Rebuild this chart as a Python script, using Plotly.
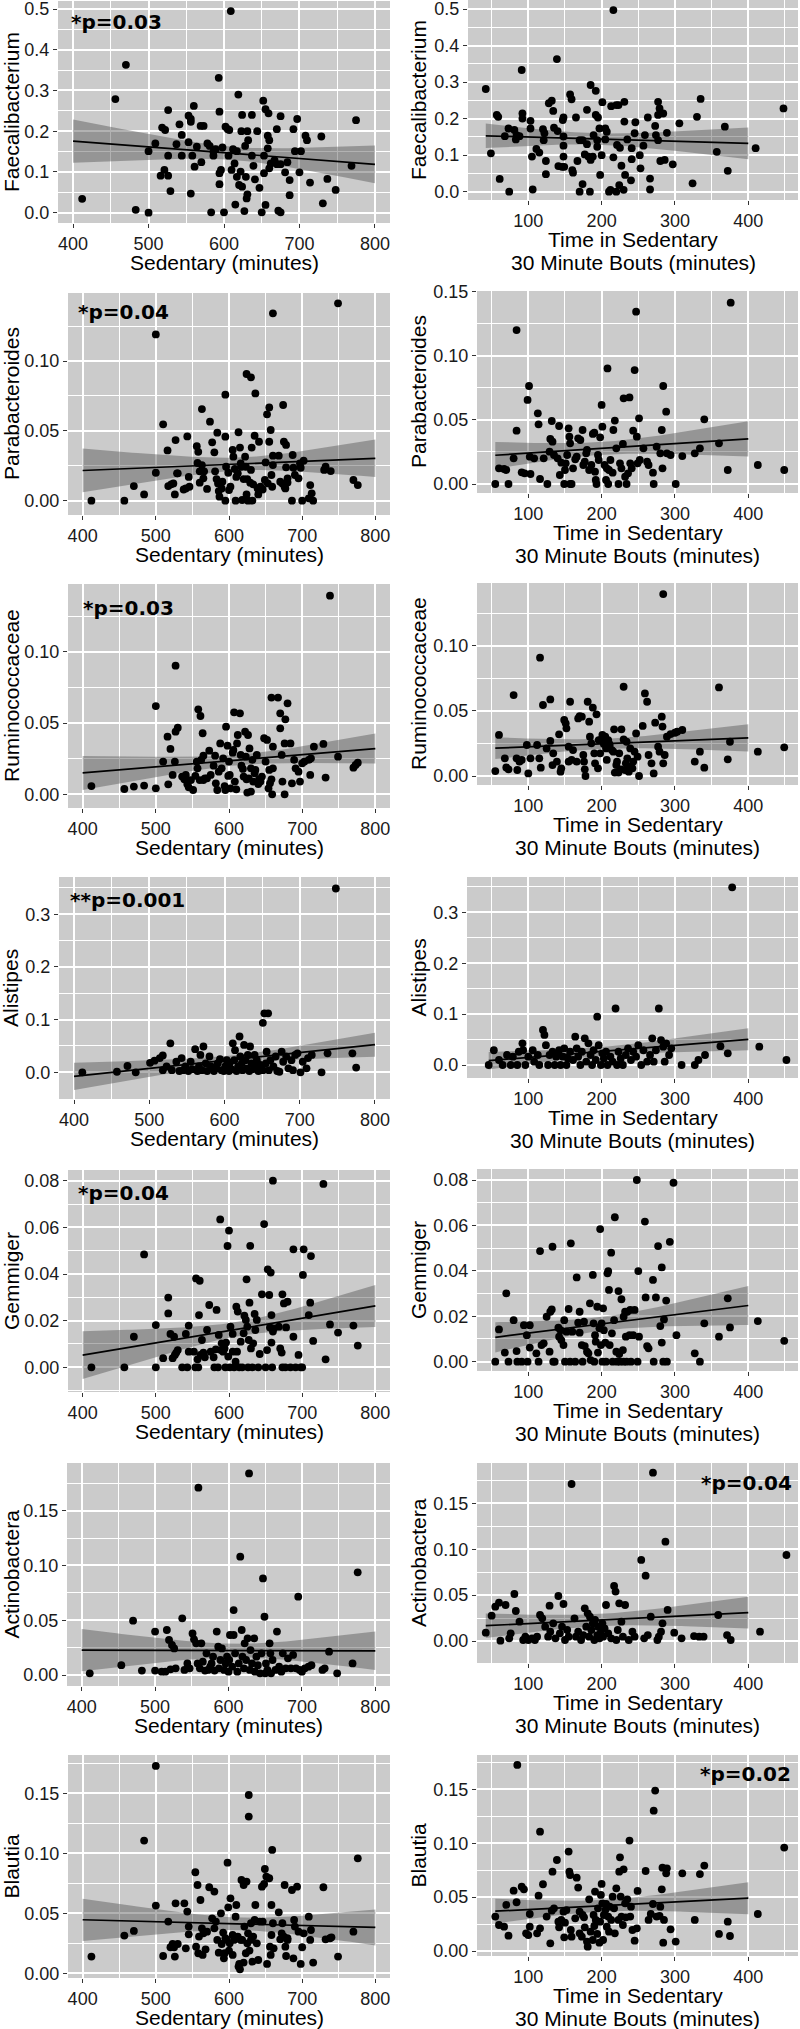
import numpy as np
import plotly.graph_objects as go

W, H = 800, 2029

# ---------------- DATA ----------------
TAXA = ["Faecalibacterium", "Parabacteroides", "Ruminococcaceae", "Alistipes",
        "Gemmiger", "Actinobactera", "Blautia"]
X_TITLE_SED = "Sedentary (minutes)"
X_TITLE_BOUT = ["Time in Sedentary", "30 Minute Bouts (minutes)"]
P_TEXT = ["*p=0.03", "*p=0.04", "*p=0.03", "**p=0.001", "*p=0.04", "*p=0.04", "*p=0.02"]
P_COL = [0, 0, 0, 0, 0, 1, 1]

FAECALI_SED = [(412,.034),(456,.279),(470,.363),(483,.007),(500,0),(500,.151),(509,.170),(518,.209),(522,.203),(516,.091),(521,.105),(526,.091),(526,.140),(526,.252),(529,.053),(537,.168),(541,.217),(544,.191),(544,.140),(553,.238),(556,.230),(556,.223),(553,.173),(556,.047),(560,.262),(558,.140),(561,.113),(564,.162),(570,.124),(569,.213),(573,.213),(578,.170),(581,.164),(583,.001),(586,.150),(586,.140),(589,.156),(593,.331),(594,.248),(594,.097),(594,.070),(596,.105),(598,.160),(600,.001),(602,.211),(605,.205),(606,.140),(607,.203),(609,.495),(610,.105),(612,.156),(614,.121),(615,.020),(617,.151),(617,.088),(619,.290),(620,.068),(622,.101),(623,.200),(624,.240),(624,.064),(627,.004),(628,.164),(629,.088),(630,.035),(631,.200),(631,.045),(632,.178),(637,.240),(637,.140),(639,.115),(641,.082),(644,.200),(647,.061),(650,.001),(652,.275),(653,.140),(653,.097),(655,.254),(655,.019),(658,.189),(658,.158),(659,.244),(660,.178),(660,.109),(662,.121),(667,.129),(670,.205),(670,.119),(672,.005),(675,.237),(675,.001),(675,.119),(681,.099),(684,.124),(687,.080),(687,.043),(692,.205),(694,.151),(697,.230),(700,.099),(702,.151),(708,.189),(710,.178),(714,.074),(729,.187),(731,.023),(737,.083),(748,.056),(769,.115),(775,.227)]

FAECALI_BOUT = [(42,.281),(49,.105),(57,.210),(59,.205),(61,.035),(68,.152),(73,.173),(74,0),(81,.169),(83,.143),(84,.155),(88,.152),(91,.333),(92,.200),(92,.214),(103,.194),(103,.173),(106,.006),(105,.096),(111,.117),(115,.107),(120,.171),(121,.141),(122,.160),(124,.084),(124,.048),(128,.242),(132,.249),(134,.221),(135,.175),(139,.363),(140,.166),(141,.070),(146,.068),(147,.196),(148,.203),(148,.151),(148,.126),(148,.096),(149,.068),(157,.266),(159,.253),(160,.059),(161,.052),(165,.203),(167,.084),(170,.141),(170,0),(174,.021),(174,.141),(177,.102),(180,.224),(180,.130),(182,.096),(184,0),(185,.292),(185,.087),(188,.096),(189,.155),(192,.276),(192,.210),(194,.141),(194,.123),(195,.203),(197,.173),(198,.046),(200,.100),(201,.245),(205,.173),(205,.143),(207,.164),(210,0),(212,.005),(213,.234),(216,.094),(216,.497),(220,0),(220,.237),(221,.128),(223,.237),(224,.018),(225,.120),(227,.071),(230,.005),(231,.192),(231,.246),(232,.046),(235,.143),(240,.031),(241,.089),(241,.119),(245,.160),(246,.190),(252,.100),(253,.064),(257,.126),(259,.155),(263,.203),(266,.036),(266,.006),(273,.180),(274,.155),(277,.246),(277,.210),(277,.141),(279,.228),(280,.084),(284,.214),(286,.087),(289,.161),(297,.075),(306,.187),(324,.023),(330,.205),(335,.254),(357,.109),(368,.178),(372,.057),(410,.119),(448,.228)]

PARA_SED = [(412,0),(457,0),(470,.0105),(484,.0045),(500,.020),(500,.119),(510,.0547),(516,.036),(517,.0105),(521,.0117),(524,.0124),(526,.0045),(527,.0434),(529,.0196),(530,.0196),(538,.008),(541,.0088),(543,.046),(545,.017),(546,.010),(556,.039),(557,.027),(558,.035),(560,.021),(560,.0129),(563,.0656),(563,.0255),(565,.016),(566,.021),(570,.0084),(574,.0566),(577,.0418),(580,.0346),(581,.021),(583,.0155),(584,.0487),(585,.0124),(586,.0069),(587,.0029),(590,.0088),(591,.0136),(595,.0759),(595,0),(595,.0458),(596,.0243),(599,.020),(600,.0076),(602,.010),(605,.0363),(606,.0315),(608,.0227),(609,0),(610,.017),(612,.0196),(613,.049),(615,.038),(616,.0267),(617,.0243),(618,.0005),(620,.0155),(622,.0315),(623,.0243),(624,.0907),(624,.0045),(625,.0155),(626,0),(629,.0129),(630,.022),(630,.0883),(631,.038),(632,0),(633,.0117),(635,.0465),(636,.0768),(639,.0088),(640,.0045),(641,.0422),(643,.010),(646,.008),(649,.0148),(650,.0274),(652,.0618),(653,.0124),(655,.0668),(655,.0422),(657,.0506),(658,.0184),(659,.010),(660,.1341),(660,.0255),(660,.0322),(668,.0322),(670,.0136),(673,.0124),(674,.0685),(675,.0422),(676,.010),(677,.0088),(678,.0399),(678,.0239),(680,.016),(680,.0131),(686,0),(687,.0327),(688,.0236),(690,.0184),(695,.016),(697,.0267),(698,.0236),(700,0),(702,.0286),(709,.0017),(711,.0112),(713,.0053),(715,0),(730,.022),(732,.0243),(739,.0212),(749,.1413),(770,.0148),(776,.0112)]

PARA_BOUT = [(55,0),(60,.0122),(67,.0117),(70,.0109),(73,0),(80,.020),(84,.120),(84,.0416),(91,.0091),(95,.0083),(99,.0655),(101,.0764),(102,.0213),(103,.0078),(108,.020),(113,.0551),(114,.0465),(116,.0039),(121,.020),(126,0),(129,.0252),(130,.0351),(132,.0491),(133,.033),(135,.0226),(140,.020),(142,.0452),(143,.007),(145,.0166),(149,0),(150,.0109),(151,.0161),(153,.0226),(155,.0434),(156,.0369),(157,.0317),(157,0),(159,0),(161,.0122),(164,.0192),(166,.0213),(168,.0356),(171,.0343),(174,.0421),(175,.0148),(177,.0174),(179,.0239),(180,.0265),(183,.0109),(186,.0148),(188,.039),(190,.040),(191,.0096),(192,.0031),(193,0),(195,.0226),(196,.0187),(198,.0364),(200,.0616),(201,.0447),(204,.0148),(206,.0031),(207,.0122),(208,.0901),(209,0),(210,.0109),(212,.0187),(215,.0088),(216,.0421),(218,.0494),(220,.0278),(223,0),(225,.0161),(227,.0122),(229,.0312),(230,.0668),(232,.0057),(234,0),(236,.0083),(238,.0675),(239,.0161),(241,.0122),(243,.0416),(245,.0888),(247,.1343),(248,.0369),(249,.0161),(251,.0512),(252,.0187),(257,.0278),(262,.0174),(264,.0148),(270,.0088),(271,0),(275,.0291),(280,.0239),(282,.0421),(283,.0122),(284,.0764),(288,.0564),(289,.0239),(294,.0226),(301,0),(310,.0218),(327,.0239),(334,.0278),(340,.0504),(360,.0317),(372,.0109),(376,.1413),(413,.0148),(449,.0109)]

RUMINO_SED = [(412,.0058),(457,.0037),(470,.0054),(484,.0061),(500,.0042),(500,.0619),(510,.0229),(516,.0404),(517,.007),(520,.0318),(523,.0136),(526,.0229),(527,.0902),(527,.0439),(530,.0467),(536,.0124),(539,.0105),(541,.0136),(543,.0072),(545,.0049),(548,.010),(551,.003),(554,.0129),(556,.0229),(557,.0182),(558,.0596),(560,.010),(561,.0549),(562,.0241),(564,.0428),(565,.0271),(565,.010),(567,.0112),(570,.0112),(573,.0306),(575,.0136),(579,.0201),(581,.0271),(582,.0077),(584,.003),(586,.0159),(588,.0357),(590,.0182),(592,.0252),(594,.0058),(595,.003),(596,.0474),(598,.0341),(599,.0129),(600,.0229),(601,.0136),(602,.0042),(605,.0292),(606,.0311),(607,.0575),(608,.0089),(610,.0035),(611,.0357),(612,.0416),(615,.0568),(616,.0276),(617,.0201),(619,.0178),(620,.0124),(622,.0439),(623,.0264),(624,.0105),(625,.0012),(626,.0416),(627,.0112),(628,.0322),(630,.0182),(630,.0019),(632,.0241),(633,.0089),(635,.0147),(636,.0171),(638,.0276),(640,.0072),(641,.0105),(643,.0089),(645,.0124),(648,.0393),(650,.0229),(652,.0381),(654,.0042),(655,.0171),(656,.0077),(658,.0105),(658,.0678),(659,0),(660,.0334),(660,.0182),(667,.0678),(670,.0568),(670,.0463),(672,.0276),(673,.0089),(677,.0526),(676,.0357),(676,0),(680,.0638),(684,.0357),(686,.0077),(689,.0241),(691,.0182),(695,.0159),(697,.0089),(700,.0217),(703,.0229),(709,.0241),(711,.0136),(712,.0252),(716,.0334),(729,.0353),(732,.0117),(738,.1393),(749,.0264),(770,.0187),(773,.0206),(776,.0222)]

RUMINO_BOUT = [(55,.0038),(60,.0315),(68,.0136),(70,.0066),(73,.0051),(80,.0621),(84,.0136),(85,.0046),(88,.011),(91,.0123),(98,.0238),(100,.002),(103,.0136),(112,.0238),(115,.0136),(116,.0908),(117,.0064),(120,.0545),(125,.0212),(130,.0588),(130,.0269),(133,.0084),(134,.0174),(139,.011),(142,.032),(144,.0033),(145,.0059),(149,.043),(151,.0404),(152,.0366),(155,.0225),(155,.011),(157,.057),(159,.0123),(161,.0199),(166,.011),(168,.0442),(170,.046),(173,.0455),(175,.0161),(176,.011),(177,.0051),(178,0),(181,.057),(183,.0417),(184,.0302),(186,.0251),(188,.0524),(190,.0174),(191,.0097),(193,.0473),(195,.0059),(196,.0276),(198,.0174),(200,.0281),(201,.0315),(203,.0246),(205,.0302),(206,.0212),(207,.0123),(209,.0276),(210,.0251),(211,.0238),(214,.0199),(216,.0187),(217,.0358),(218,.0026),(220,.0084),(221,.011),(223,.0026),(224,.0174),(226,.0051),(227,.0358),(230,.0685),(230,.0281),(232,.0046),(233,.0097),(234,.0263),(235,.0136),(237,.0033),(239,.0212),(240,.0072),(242,.0059),(243,.011),(245,.0187),(247,.0327),(249,.0148),(251,0),(256,.0384),(259,.0634),(262,.057),(264,.0161),(268,.0097),(271,.002),(273,.0409),(277,.0225),(279,.0187),(282,.0455),(283,.0379),(284,.1396),(284,.0097),(286,.0161),(289,.0302),(294,.0322),(300,.0332),(303,.034),(310,.0353),(327,.011),(334,.0187),(340,.0064),(360,.068),(372,.0128),(375,.0263),(413,.0187),(449,.022)]

ALIST_SED = [(411,0),(457,.001),(471,.012),(482,0),(501,.018),(507,.022),(514,.027),(518,.032),(518,.004),(523,.011),(528,.055),(530,.004),(536,.020),(540,.0025),(543,.027),(545,.004),(548,.011),(552,.0025),(555,.020),(557,.006),(561,.044),(564,.0025),(566,.011),(568,.033),(570,.004),(572,.049),(575,.017),(577,.0025),(580,.030),(582,.011),(586,.0025),(589,.0076),(591,.017),(594,.025),(596,.004),(599,.0025),(601,.011),(603,.023),(606,.0025),(607,.017),(609,.006),(611,.055),(613,.023),(614,.042),(616,.0025),(618,.011),(620,.068),(621,.030),(623,.017),(624,.004),(626,.052),(628,.023),(630,.0076),(631,.033),(633,.0025),(634,.049),(636,.017),(639,.006),(640,.033),(641,.011),(643,.023),(645,.0025),(648,.0139),(651,.094),(651,.004),(653,.112),(655,.017),(656,.039),(658,.112),(659,.004),(661,.023),(665,.011),(668,.030),(670,.0025),(673,.001),(676,.039),(678,.020),(682,.030),(685,.0076),(689,.023),(691,.004),(694,.033),(697,.036),(701,0),(704,.020),(709,.0076),(711,.027),(716,.033),(729,0),(737,.036),(748,.349),(770,.036),(775,.009)]

ALIST_BOUT = [(46,0),(53,.029),(60,.0098),(65,0),(71,.0196),(76,0),(79,.0164),(85,0),(87,.026),(92,.0426),(93,.029),(96,0),(100,.0164),(106,.029),(108,.0065),(113,.0196),(115,0),(120,.0688),(122,.059),(124,.039),(127,0),(129,.0196),(133,.026),(136,0),(138,.0164),(142,.029),(144,0),(147,.0164),(149,.0327),(152,0),(154,.013),(157,.026),(161,.0098),(164,.0557),(166,.0327),(168,.0164),(171,0),(173,.026),(177,.0524),(179,.0065),(182,.0426),(185,.0196),(187,0),(189,.029),(192,.0098),(194,.095),(196,.039),(199,0),(201,.023),(203,.013),(206,.026),(208,0),(212,.0164),(215,.0065),(219,.111),(221,0),(223,.026),(226,.013),(229,0),(233,.0196),(236,.0327),(240,.0098),(243,.026),(247,.0164),(250,.039),(254,0),(257,.029),(262,.0065),(266,.0196),(269,.0524),(271,.0065),(274,.029),(278,.111),(281,.049),(284,.036),(286,.0065),(288,.0426),(292,.0196),(295,.0327),(309,0),(327,0),(332,.0098),(341,.0196),(362,.037),(372,.023),(378,.349),(415,.036),(452,.0098)]

GEMM_SED = [(412,0),(457,0),(470,.0131),(484,.0484),(500,.0181),(500,0),(510,.0039),(517,.0299),(517,.0231),(520,.0143),(523,.0039),(525,.0131),(526,.0053),(528,.0063),(530,.0074),(536,0),(541,.0143),(543,0),(545,.0067),(545,.0179),(552,.0067),(554,0),(555,.0381),(557,.0034),(558,0),(559,.0224),(560,.0371),(561,.0053),(563,.0117),(565,.0063),(567,.0043),(570,.016),(573,.0267),(575,.0067),(579,.0043),(580,0),(582,.0077),(583,.0246),(585,0),(586,.0139),(588,.0634),(589,.0074),(590,.0103),(592,.0067),(594,.0081),(595,0),(596,.0106),(598,.052),(599,.0046),(600,.0586),(601,0),(602,.0174),(605,.0067),(605,.0143),(607,0),(609,.0024),(610,.026),(611,.0067),(612,.0239),(614,0),(616,.011),(618,0),(620,.0146),(621,.0221),(623,.0203),(624,.0377),(625,.0174),(626,0),(627,.0117),(628,.0277),(629,.0521),(630,.0081),(632,0),(633,.0103),(635,.0229),(636,.016),(638,.0203),(640,0),(642,.0057),(645,.0313),(648,.0614),(650,0),(652,.0074),(653,.042),(655,.031),(656,.0171),(657,.0406),(658,.0224),(658,.0106),(659,0),(660,.080),(660,.0153),(661,.0167),(668,.0174),(670,.0081),(672,.0063),(673,0),(673,.0313),(675,.0274),(677,0),(678,.0171),(680,.0281),(684,0),(688,.0506),(688,.0131),(691,0),(695,.0053),(698,0),(700,0),(701,.0396),(702,.0506),(709,.0224),(711,.0277),(712,.0477),(715,.0113),(729,.0786),(732,.0034),(738,.0184),(749,.0149),(770,.0179),(776,.0093)]

GEMM_BOUT = [(55,0),(60,.0142),(68,.004),(70,.0301),(73,0),(80,.0183),(84,.0047),(85,0),(91,0),(94,.0161),(98,.0117),(99,0),(102,.0161),(102,.0062),(111,.0037),(114,0),(116,.0487),(118,.0073),(121,.0081),(125,.0198),(129,.0044),(130,.022),(132,.023),(133,.0506),(134,0),(136,0),(141,.015),(142,.011),(144,.0139),(145,.0095),(148,.0073),(149,.0183),(150,0),(152,.0132),(155,.0232),(157,0),(158,.0521),(160,.0132),(164,0),(166,.0371),(168,.0172),(170,.0128),(170,.022),(173,.0073),(174,0),(176,.0176),(177,.0069),(180,.0044),(182,.0037),(184,.0257),(185,.0007),(188,.0382),(189,.0169),(190,0),(191,.0117),(192,.0088),(194,.0242),(195,.004),(197,.0147),(198,.0584),(199,.0073),(200,.0169),(201,0),(202,.0235),(203,.0139),(205,.0084),(206,0),(208,.0389),(209,.0399),(210,.0316),(211,.0073),(213,.048),(214,.0125),(215,0),(217,.0183),(218,.0636),(220,.0044),(221,0),(223,.0311),(224,.0034),(225,0),(227,.0275),(229,.0051),(230,0),(230,.0198),(232,.022),(233,.011),(234,0),(235,.022),(238,.0117),(239,.0228),(240,0),(243,.0117),(245,.0228),(248,.080),(249,0),(250,.0399),(251,.011),(259,.0617),(260,.0283),(262,.0069),(264,.0059),(270,.036),(271,0),(274,.0283),(277,.0509),(280,.0157),(282,.0084),(282,.0415),(284,0),(285,.0186),(288,.0269),(289,0),(293,.0528),(298,.0788),(302,.0117),(327,.0037),(334,0),(340,.0169),(360,.011),(372,.0279),(375,.0151),(413,.0179),(449,.0092)]

ACTINO_SED = [(411,.0015),(454,.009),(470,.0496),(482,.004),(500,.0396),(500,.004),(509,.003),(514,.003),(516,.0411),(519,.032),(521,.0052),(523,.0274),(526,.0243),(528,.0061),(537,.0517),(540,.0046),(544,.0106),(547,.0061),(551,.038),(553,.0326),(556,.0289),(558,.0106),(559,.171),(561,.0061),(563,.0289),(565,.0122),(568,.004),(570,.0198),(572,.0046),(575,.0076),(577,.0106),(579,.0167),(581,.004),(584,.0396),(586,.0259),(587,.0061),(589,.0137),(591,.0243),(594,.0046),(596,.0106),(598,.0167),(600,.003),(601,.0137),(602,.0365),(605,.0076),(607,.0593),(607,.0365),(609,.0198),(612,.003),(614,.0106),(616,.108),(618,.0411),(619,.0167),(621,.0061),(622,.0289),(624,.0137),(626,.0335),(628,.184),(629,.0046),(630,.0228),(632,.0106),(635,.0335),(636,.003),(638,.0167),(640,.009),(643,.0015),(645,.0198),(647,.0882),(649,.0532),(650,.0015),(651,.0106),(653,.0046),(656,.0289),(657,.0198),(658,.0015),(660,.0137),(664,.0046),(666,.0396),(669,.0076),(672,.003),(674,.0198),(678,.0061),(681,.0152),(685,.0061),(688,.0183),(692,.0061),(695,.0715),(697,.0046),(700,.003),(704,.0061),(709,.0076),(713,.009),(728,.0046),(731,.0061),(737,.0213),(748,.0015),(769,.0106),(776,.0937)]

ACTINO_BOUT = [(42,.0091),(50,.0276),(55,.0374),(60,.0418),(62,.0004),(69,.0392),(74,.0029),(76,.0084),(81,.0512),(83,.0327),(88,.0211),(93,.0011),(96,.0047),(100,.0011),(105,.0029),(109,.0011),(112,.0047),(116,.0283),(119,.0247),(123,.0156),(127,.0047),(129,.0385),(130,.0102),(134,.0193),(137,.0029),(141,.049),(143,.0084),(146,.0156),(148,.0403),(150,.0011),(153,.012),(155,.0047),(159,.171),(163,.0247),(165,.0047),(168,.0102),(172,.0011),(175,.0065),(177,.0356),(179,.0156),(181,.0301),(183,.0047),(184,.0265),(186,.012),(188,.0193),(190,.0011),(191,.0229),(194,.0065),(195,.0156),(197,.0029),(199,.0102),(201,.0193),(202,.0047),(204,.0138),(206,.0392),(209,.0084),(213,.0029),(217,.0599),(219,.0538),(220,.0011),(222,.012),(224,.041),(227,.0211),(229,.0047),(232,.0392),(237,.0011),(242,.0102),(245,.0047),(254,.0883),(258,.0029),(260,.0712),(263,.0065),(267,.0265),(270,.1834),(276,.0011),(278,.0047),(281,.0102),(283,.0193),(287,.1082),(290,.0338),(299,.0091),(309,.0029),(326,.0054),(333,.0047),(339,.0047),(359,.0283),(371,.0065),(376,.0011),(416,.0102),(452,.0937)]

BLAUT_SED = [(412,.0139),(457,.0314),(470,.0353),(484,.1106),(500,.0564),(500,.1728),(510,.0144),(517,.0431),(520,.0217),(523,.0244),(525,.0217),(526,.0139),(527,.0583),(530,.0244),(539,.0583),(541,.0208),(543,.0514),(545,.0325),(545,.0389),(554,.0842),(555,.0222),(557,.0736),(558,.0167),(559,.0306),(561,.0611),(563,.0375),(564,.0153),(565,.0333),(568,.020),(570,.0347),(573,.0717),(577,.0458),(580,.0681),(580,.0375),(582,.0431),(584,.0278),(586,.0172),(589,.050),(590,.0244),(592,.0339),(593,.0125),(594,.0167),(595,.0292),(597,.0278),(598,.0922),(599,.055),(600,.0189),(601,.025),(602,.0625),(605,.0319),(605,.0153),(607,.0278),(609,.0472),(610,.0569),(612,.0306),(613,.0056),(614,.0078),(615,.0033),(616,.0278),(617,.0778),(618,.0278),(620,.0736),(620,.0089),(621,.0389),(623,.0167),(624,.0764),(625,.025),(626,.0333),(627,.1486),(627,.1306),(628,.0189),(630,.0278),(630,.0417),(632,.0097),(633,.0306),(635,.0444),(636,.0569),(638,.025),(640,.0111),(642,.0431),(645,.0722),(646,.0431),(648,.0744),(649,.0869),(651,.0806),(652,.0078),(655,.0792),(656,.0222),(657,.0153),(658,.0569),(658,.0319),(659,.1028),(660,.0417),(661,.0208),(668,.0508),(670,.0283),(672,.0333),(673,.0417),(675,.0306),(676,.0736),(677,.0222),(678,.0144),(680,.0292),(680,.0278),(686,.0694),(688,.0125),(689,.0444),(690,.0389),(693,.0722),(695,.0347),(698,.0078),(700,.0217),(702,.0333),(709,.0472),(711,.0278),(712,.0361),(715,.0089),(729,.0717),(732,.0283),(738,.0292),(740,.030),(749,.0139),(770,.0347),(776,.0958)]

BLAUT_BOUT = [(55,.0319),(60,.0241),(67,.0226),(70,.0427),(73,.0142),(80,.056),(84,.0452),(85,.1726),(91,.0597),(94,.0572),(97,.0164),(100,.0148),(102,.0343),(102,.0226),(112,.0164),(114,.0513),(116,.1107),(116,.021),(120,.0619),(125,.0319),(130,.0071),(132,.0374),(133,.0736),(135,.0396),(139,.0844),(141,.0272),(142,.022),(145,.0288),(148,.0365),(149,.0127),(150,.0263),(152,.038),(155,.0922),(156,.0736),(157,.0705),(158,.0195),(159,.0133),(164,.0303),(166,.068),(168,.0588),(170,.0164),(170,.0365),(173,.0133),(174,.0334),(176,.0312),(177,.022),(180,.0087),(181,.004),(183,.0479),(185,.0179),(188,.0102),(189,.0334),(190,.0232),(191,.0551),(192,.0288),(194,.0158),(195,.0396),(197,.0077),(198,.0272),(199,.052),(200,.0622),(201,.0442),(202,.0102),(203,.0334),(205,.038),(206,.0436),(207,.0226),(209,.0319),(210,.0179),(211,.0411),(213,.0288),(215,.0504),(217,.0396),(218,.0164),(220,.0581),(223,.0288),(224,.0736),(225,.0869),(226,.0504),(227,.0319),(229,.0241),(230,.0758),(232,.0442),(233,.0312),(235,.0479),(238,.1024),(239,.0319),(240,.0411),(242,.0195),(245,.0096),(248,.021),(249,.0557),(260,.0742),(264,.0288),(267,.0343),(270,.0436),(271,.1302),(273,.1488),(275,.0319),(279,.0325),(280,.0411),(282,.0572),(283,.0773),(284,.0077),(285,.0288),(288,.0721),(289,.0767),(294,.0201),(301,.0087),(310,.0721),(327,.0288),(334,.0714),(340,.0792),(360,.0158),(372,.0272),(375,.0139),(413,.0343),(449,.0959)]

SED_DATA = [FAECALI_SED, PARA_SED, RUMINO_SED, ALIST_SED, GEMM_SED, ACTINO_SED, BLAUT_SED]
BOUT_DATA = [FAECALI_BOUT, PARA_BOUT, RUMINO_BOUT, ALIST_BOUT, GEMM_BOUT, ACTINO_BOUT, BLAUT_BOUT]

SED_FIT_RANGE = (400, 800)
BOUT_FIT_END = 400

# ---------------- LAYOUT (pixel geometry measured on the reference) ----------------
SED_XRANGE = [380, 820]
BOUT_XCAL = ((100, 528.3), (400, 748.3))
BOX_L = [(58, 390, 1, 223), (68, 390, 293, 515), (68, 390, 584, 808), (59, 390, 877, 1099),
         (68, 390, 1170, 1392), (67, 390, 1463, 1686), (68, 390, 1755, 1978)]
YCAL_L = [((0, 212.7), (0.5, 9)), ((0, 500.7), (0.1, 361)), ((0, 794.3), (0.1, 651.7)),
          ((0, 1072.3), (0.3, 914.3)), ((0, 1367.3), (0.08, 1180.7)), ((0, 1675), (0.15, 1510.7)),
          ((0, 1973.3), (0.15, 1793.3))]
BOX_R = [(468, 798, 0, 200), (477, 798, 291, 493), (477, 798, 583, 785), (467, 798, 877, 1078),
         (477, 798, 1169, 1371), (477, 798, 1463, 1663), (477, 798, 1755, 1956)]
YCAL_R = [((0, 191.7), (0.5, 9)), ((0, 484), (0.1, 355.7)), ((0, 776), (0.1, 645.7)),
          ((0, 1065), (0.3, 912.3)), ((0, 1361.7), (0.08, 1180)), ((0, 1641), (0.15, 1503.3)),
          ((0, 1951), (0.15, 1789.3))]
Y_DTICK = [0.1, 0.05, 0.05, 0.1, 0.02, 0.05, 0.05]
Y_FMT = [".1f", ".2f", ".2f", ".1f", ".2f", ".2f", ".2f"]
P_POS = [(70, 22), (76.7, 312.5), (81.7, 608), (69, 900), (76.7, 1193), (793, 1483), (791.7, 1774)]

BG = "#CBCBCB"
BAND = "rgba(85,85,85,0.45)"
FONT = "Liberation Sans, Arial, sans-serif"
TICK_SIZE = 18
TITLE_SIZE = 21


def cal_range(lo_px, hi_px, cal):
    (v1, p1), (v2, p2) = cal
    b = (p2 - p1) / (v2 - v1)
    r = [v1 + (lo_px - p1) / b, v1 + (hi_px - p1) / b]
    return sorted(r)


def fit_band(pts, x0, x1, t=1.98, n=60):
    x = np.array([p[0] for p in pts], float)
    y = np.array([p[1] for p in pts], float)
    b, a = np.polyfit(x, y, 1)
    xs = np.linspace(x0, x1, n)
    yhat = a + b * xs
    resid = y - (a + b * x)
    s = np.sqrt(np.sum(resid ** 2) / (len(x) - 2))
    se = s * np.sqrt(1 / len(x) + (xs - x.mean()) ** 2 / np.sum((x - x.mean()) ** 2))
    return xs, yhat, yhat - t * se, yhat + t * se


fig = go.Figure()
layout = {}
annotations = []


def px_x(p):
    return p / W


def px_y(p):
    return 1 - p / H


def text_ann(text, x, y, size=TITLE_SIZE, angle=0, xanchor="center"):
    return dict(text=text, x=px_x(x), y=px_y(y), xref="paper", yref="paper",
                xanchor=xanchor, yanchor="middle", textangle=angle, showarrow=False,
                borderpad=0, font=dict(family=FONT, size=size, color="black"))


k = 0
for r in range(7):
    for c in range(2):
        k += 1
        xa = "x" if k == 1 else f"x{k}"
        ya = "y" if k == 1 else f"y{k}"
        pts = SED_DATA[r] if c == 0 else BOUT_DATA[r]
        box = BOX_L[r] if c == 0 else BOX_R[r]
        ycal = YCAL_L[r] if c == 0 else YCAL_R[r]
        x0, x1, y0, y1 = box
        if c == 0:
            xr = SED_XRANGE
            fx0, fx1 = SED_FIT_RANGE
        else:
            xr = cal_range(x0, x1, BOUT_XCAL)
            fx0, fx1 = min(p[0] for p in pts), BOUT_FIT_END
        yr = cal_range(y0, y1, ycal)

        xs, yhat, lo, hi = fit_band(pts, fx0, fx1)
        fig.add_trace(go.Scatter(x=list(xs) + list(xs[::-1]), y=list(lo) + list(hi[::-1]),
                                 fill="toself", fillcolor=BAND, line=dict(width=0),
                                 mode="lines", hoverinfo="skip", showlegend=False,
                                 xaxis=xa, yaxis=ya))
        fig.add_trace(go.Scatter(x=[p[0] for p in pts], y=[p[1] for p in pts], mode="markers",
                                 marker=dict(color="black", size=7.8, line=dict(width=0)),
                                 cliponaxis=False, showlegend=False, xaxis=xa, yaxis=ya))
        fig.add_trace(go.Scatter(x=xs, y=yhat, mode="lines", line=dict(color="black", width=1.7),
                                 showlegend=False, xaxis=xa, yaxis=ya))

        axcommon = dict(showgrid=True, gridcolor="white", gridwidth=1.5, zeroline=False,
                        showline=False, ticks="outside", ticklen=4, tickwidth=1.1,
                        tickcolor="#333333", automargin=False, ticklabeloverflow="allow",
                        tickfont=dict(family=FONT, size=TICK_SIZE, color="#1a1a1a"))
        xkey = "xaxis" if k == 1 else f"xaxis{k}"
        ykey = "yaxis" if k == 1 else f"yaxis{k}"
        layout[xkey] = dict(domain=[px_x(x0), px_x(x1)], range=xr, anchor=ya,
                            tickmode="linear", tick0=0, dtick=100,
                            minor=dict(dtick=50, tick0=0, showgrid=True, gridcolor="white",
                                       gridwidth=0.7),
                            **axcommon)
        layout[ykey] = dict(domain=[px_y(y1), px_y(y0)], range=yr, anchor=xa,
                            tickmode="linear", tick0=0, dtick=Y_DTICK[r], tickformat=Y_FMT[r],
                            minor=dict(dtick=Y_DTICK[r] / 2, tick0=0, showgrid=True,
                                       gridcolor="white", gridwidth=0.7),
                            **axcommon)

        xc = (x0 + x1) / 2
        if c == 0:
            annotations.append(text_ann(X_TITLE_SED, xc, y1 + 39))
            ytx = 11
        else:
            annotations.append(text_ann(X_TITLE_BOUT[0], xc, y1 + 39))
            annotations.append(text_ann(X_TITLE_BOUT[1], xc, y1 + 62))
            ytx = 418
        annotations.append(text_ann(TAXA[r], ytx, (y0 + y1) / 2, angle=-90))
        if P_COL[r] == c:
            px_, py_ = P_POS[r]
            annotations.append(dict(text="<b>" + P_TEXT[r] + "</b>", x=px_x(px_), y=px_y(py_),
                                    xref="paper", yref="paper",
                                    xanchor="left" if c == 0 else "right", yanchor="middle",
                                    showarrow=False, borderpad=0,
                                    font=dict(family="DejaVu Sans", size=20, color="black")))

fig.update_layout(**layout)
fig.update_layout(width=W, height=H, autosize=False, margin=dict(l=0, r=0, t=0, b=0, pad=0),
                  paper_bgcolor="white", plot_bgcolor=BG, showlegend=False,
                  annotations=annotations)
fig.write_html(
    "out.html",
    config={"displayModeBar": False, "responsive": False},
    post_script=(
        "document.documentElement.style.margin='0';document.documentElement.style.padding='0';"
        "document.body.style.margin='0';document.body.style.padding='0';"
        "document.body.style.overflow='hidden';"
        "var g=document.getElementById('{plot_id}');"
        "g.style.position='absolute';g.style.left='0px';g.style.top='0px';"
    ),
)
